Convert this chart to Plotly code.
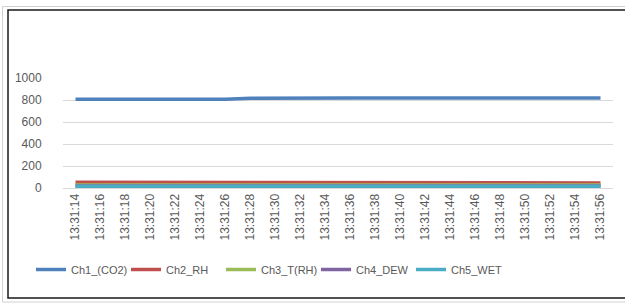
import plotly.graph_objects as go

times = ["13:31:14", "13:31:16", "13:31:18", "13:31:20", "13:31:22", "13:31:24",
         "13:31:26", "13:31:28", "13:31:30", "13:31:32", "13:31:34", "13:31:36",
         "13:31:38", "13:31:40", "13:31:42", "13:31:44", "13:31:46", "13:31:48",
         "13:31:50", "13:31:52", "13:31:54", "13:31:56"]
ch1_co2 = [806, 806, 806, 806, 806, 806, 807, 816, 818, 818, 818, 818,
           818, 818, 818, 818, 818, 818, 818, 818, 818, 818]
ch2_rh = [52, 52, 52, 52, 52, 52, 52, 51, 51, 52, 52, 52,
          52, 52, 52, 52, 52, 51, 45, 47, 48, 46]
ch3_t = [28, 28, 28, 28, 28, 28, 28, 28, 28, 28, 28, 28,
         28, 28, 28, 28, 28, 28, 28, 28, 28, 28]
ch4_dew = [19, 19, 19, 19, 19, 19, 18, 12, 13, 18, 19, 19,
           19, 19, 19, 19, 19, 19, 17, 18, 18, 18]
ch5_wet = [16, 16, 16, 16, 16, 16, 15, 9, 10, 15, 16, 16,
           16, 16, 16, 16, 16, 16, 15, 16, 16, 16]
y_ticks = [0, 200, 400, 600, 800, 1000]

series = [
    ("Ch1_(CO2)", ch1_co2, "#4F81BD"),
    ("Ch2_RH", ch2_rh, "#C0504D"),
    ("Ch3_T(RH)", ch3_t, "#9BBB59"),
    ("Ch4_DEW", ch4_dew, "#8064A2"),
    ("Ch5_WET", ch5_wet, "#4BACC6"),
]

fig = go.Figure()
for name, vals, col in series:
    fig.add_trace(go.Scatter(x=times, y=vals, mode="lines", name=name,
                             line=dict(color=col, width=3.5)))

W, H = 625, 304
L, R, T, B = 63, 12, 78, 116
pw, ph = W - L - R, H - T - B

def px_x(p):
    return (p - L) / pw

def px_y(p):
    return (H - B - p) / ph

fig.update_layout(
    width=W, height=H,
    margin=dict(l=L, r=R, t=T, b=B),
    paper_bgcolor="white", plot_bgcolor="white",
    font=dict(family="Liberation Sans, Arial, sans-serif", size=12, color="#595959"),
    showlegend=True,
    legend=dict(orientation="h", x=px_x(31), xanchor="left", y=px_y(255), yanchor="top",
                font=dict(size=11, color="#595959"), bgcolor="rgba(0,0,0,0)",
                itemwidth=30, tracegroupgap=0, entrywidth=50),
    xaxis=dict(type="category", tickangle=-90, showgrid=False, showline=True,
               linecolor="#d9d9d9", linewidth=1, ticks="", range=[-0.5, len(times) - 0.5],
               tickfont=dict(size=12, color="#595959"), fixedrange=True),
    yaxis=dict(range=[0, 1000], tickvals=y_ticks, showgrid=True, gridcolor="#d9d9d9",
               gridwidth=1, zeroline=False, showline=False,
               ticks="outside", ticklen=18, tickcolor="rgba(0,0,0,0)",
               tickfont=dict(size=12, color="#595959"), fixedrange=True),
    shapes=[
        dict(type="rect", xref="paper", yref="paper",
             x0=px_x(2.5), x1=px_x(640), y0=px_y(302), y1=px_y(6.5),
             line=dict(color="#d0d0d0", width=1), fillcolor="rgba(0,0,0,0)", layer="below"),
        dict(type="rect", xref="paper", yref="paper",
             x0=px_x(8), x1=px_x(640), y0=px_y(298), y1=px_y(10),
             line=dict(color="#1a1a1a", width=1.5), fillcolor="rgba(0,0,0,0)", layer="below"),
    ],
)

fig.write_html("out.html", config={"displayModeBar": False},
               post_script="document.body.style.margin='0';document.body.style.overflow='hidden';")
